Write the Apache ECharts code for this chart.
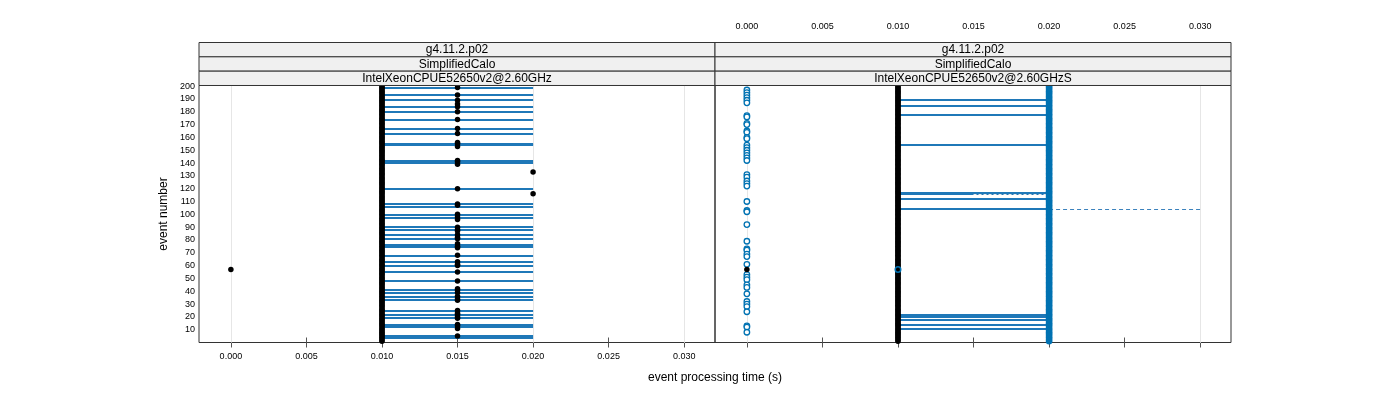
<!DOCTYPE html>
<html><head><meta charset="utf-8">
<script src="https://cdn.jsdelivr.net/npm/echarts@6/dist/echarts.min.js"></script>
<style>html,body{margin:0;padding:0;background:#fff}#c{width:1400px;height:400px}</style>
</head><body><div id="c"></div>
<script>
// ---------- data ----------
const eventNumbers = Array.from({length: 200}, (_, i) => i + 1);
const xTicks = [0.000, 0.005, 0.010, 0.015, 0.020, 0.025, 0.030];
const yTicks = [10, 20, 30, 40, 50, 60, 70, 80, 90, 100, 110, 120, 130, 140, 150, 160, 170, 180, 190, 200];
const stripLeft = ['g4.11.2.p02', 'SimplifiedCalo', 'IntelXeonCPUE52650v2@2.60GHz'];
const stripRight = ['g4.11.2.p02', 'SimplifiedCalo', 'IntelXeonCPUE52650v2@2.60GHzS'];
const xTitle = 'event processing time (s)';
const yTitle = 'event number';

// left panel
const leftBandTime = 0.010;
const leftMidTime = 0.015;
const leftLineFrom = 0.010, leftLineTo = 0.020;
const leftLineEvents = [199, 193, 189, 184, 180, 174, 167, 163, 155, 154, 142, 140, 120, 108, 106, 100, 97, 90, 88, 84, 81, 76, 75, 68, 63, 60, 55, 48, 41, 39, 36, 33, 25, 22, 19, 14, 12, 5, 4];
const leftMidEvents = [199, 193, 189, 186, 184, 180, 174, 167, 163, 156, 155, 153, 142, 141, 139, 120, 108, 107, 100, 98, 96, 90, 88, 87, 84, 82, 81, 77, 75, 74, 68, 63, 61, 60, 55, 48, 42, 41, 39, 36, 34, 33, 25, 23, 22, 20, 19, 14, 13, 11, 5];
const leftOutliers = [[0.020, 133], [0.020, 116], [0.000, 57]];

// right panel
const rightBandBlack = 0.010;
const rightBandBlue = 0.020;
const rightLineFrom = 0.010, rightLineTo = 0.020;
const rightLineEvents = [189, 185, 178, 154, 117, 116, 112, 104, 22, 20, 18, 14, 11];
const rightZeroTime = 0.000;
const rightZeroEvents = [197, 195, 193, 191, 189, 187, 177, 176, 171, 170, 165, 164, 160, 159, 154, 152, 150, 148, 146, 144, 142, 131, 129, 126, 124, 122, 110, 103, 102, 92, 79, 73, 72, 69, 67, 61, 53, 51, 49, 45, 43, 38, 32, 30, 28, 24, 13, 12, 8];
const rightBlackPoints = [[0.000, 57]];
const rightBluePoints = [[0.010, 57]];
const rightDashed = [[0.020, 104], [0.030, 104]];
const rightDashedLight = [[0.015, 116], [0.020, 116]];

// ---------- layout ----------
const FONT = 'Liberation Sans, Arial, sans-serif';
const BLUE = '#0072B2';
const X_MIN = -0.00211, X_MAX = 0.03204;
const Y_MIN = 0, Y_MAX = 200.5;
const PANEL_L = [199, 715];
const PANEL_W = 516;
const PLOT_T = 85.5, PLOT_H = 257;
const STRIP_T = 42.5, STRIP_H = 14.33;

const chart = echarts.init(document.getElementById('c'), null, {renderer: 'canvas'});

const grids = [
  {left: PANEL_L[0], top: PLOT_T, width: PANEL_W, height: PLOT_H, show: true, borderColor: '#333', borderWidth: 1, backgroundColor: 'transparent'},
  {left: PANEL_L[1], top: PLOT_T, width: PANEL_W, height: PLOT_H, show: true, borderColor: '#333', borderWidth: 1, backgroundColor: 'transparent'},
  {left: PANEL_L[0], top: STRIP_T, width: PANEL_W, height: 300, show: false},
  {left: PANEL_L[1], top: STRIP_T, width: PANEL_W, height: 300, show: false}
];

function xAxisDef(gi, pos, showLabels) {
  return {
    type: 'value', gridIndex: gi, position: pos, min: X_MIN, max: X_MAX,
    axisLine: {show: false},
    splitLine: {show: false},
    axisTick: {show: true, inside: false, length: 5, customValues: xTicks, lineStyle: {color: '#555', width: 1}},
    axisLabel: {show: showLabels, customValues: xTicks, formatter: v => v.toFixed(3),
      fontSize: 9, color: '#000', fontFamily: FONT, margin: pos === 'top' ? 11 : 10}
  };
}
const xAxes = [
  xAxisDef(0, 'bottom', true),
  xAxisDef(1, 'bottom', false),
  xAxisDef(2, 'top', false),
  xAxisDef(3, 'top', true)
];
const yAxes = [
  {type: 'value', gridIndex: 0, min: Y_MIN, max: Y_MAX, interval: 10,
    axisLine: {show: false}, axisTick: {show: false}, splitLine: {show: false},
    axisLabel: {fontSize: 9, color: '#000', fontFamily: FONT, margin: 4,
      formatter: v => (yTicks.indexOf(v) >= 0 ? String(v) : '')}},
  {type: 'value', gridIndex: 1, min: Y_MIN, max: Y_MAX, show: false},
  {type: 'value', gridIndex: 2, min: Y_MIN, max: Y_MAX, show: false},
  {type: 'value', gridIndex: 3, min: Y_MIN, max: Y_MAX, show: false}
];

function gridLineSeries(i) {
  return {
    type: 'scatter', xAxisIndex: i, yAxisIndex: i, data: [], z: 1, silent: true,
    markLine: {silent: true, z: 1, zlevel: 0, symbol: ['none', 'none'], label: {show: false},
      lineStyle: {color: '#e6e6e6', width: 1, type: 'solid'},
      emphasis: {disabled: true},
      data: xTicks.map(v => ({xAxis: v}))}
  };
}
function segs(events, from, to) {
  return events.map(e => ({coords: [[from, e], [to, e]]}));
}
function linesSeries(i, data, color, width, type, z) {
  return {type: 'lines', coordinateSystem: 'cartesian2d', xAxisIndex: i, yAxisIndex: i,
    data: data, silent: true, z: z || 2, polyline: false,
    lineStyle: {color: color, width: width, opacity: 1, type: type || 'solid'}};
}
function scatter(i, data, size, style, z, symbol) {
  return {type: 'scatter', xAxisIndex: i, yAxisIndex: i, data: data, symbol: symbol || 'circle',
    symbolSize: size, itemStyle: Object.assign({opacity: 1, borderWidth: 0}, style),
    emphasis: {disabled: true}, silent: true, z: z || 3};
}

const series = [
  gridLineSeries(0),
  gridLineSeries(1),
  // left panel
  linesSeries(0, segs(leftLineEvents, leftLineFrom, leftLineTo), '#1f78b8', 2),
  scatter(0, eventNumbers.map(e => [leftBandTime, e]), 5.5, {color: '#000'}),
  scatter(0, leftMidEvents.map(e => [leftMidTime, e]), 5.5, {color: '#000'}),
  scatter(0, leftOutliers, 5.5, {color: '#000'}),
  // right panel
  linesSeries(1, segs(rightLineEvents, rightLineFrom, rightLineTo), '#1f78b8', 2),
  scatter(1, eventNumbers.map(e => [rightBandBlue, e]), 6.5, {color: BLUE}),
  scatter(1, eventNumbers.map(e => [rightBandBlack, e]), 5.5, {color: '#000'}),
  scatter(1, rightZeroEvents.map(e => [rightZeroTime, e]), 5.5,
    {color: '#fff', borderColor: BLUE, borderWidth: 1.3, opacity: 1}),
  scatter(1, rightBlackPoints, 5.5, {color: '#000'}, 4),
  scatter(1, rightBluePoints, 5.5, {color: 'rgba(0,0,0,0)', borderColor: BLUE, borderWidth: 1.5}, 4),
  linesSeries(1, [{coords: rightDashed}], '#3b82bd', 1, [4, 3], 3),
  linesSeries(1, [{coords: rightDashedLight}], '#e8e8e8', 1, [3, 2], 3)
];

// strips + titles
const graphics = [];
[stripLeft, stripRight].forEach((rows, pi) => {
  rows.forEach((txt, r) => {
    graphics.push({type: 'rect', silent: true, z: 10,
      shape: {x: PANEL_L[pi], y: STRIP_T + r * STRIP_H, width: PANEL_W, height: STRIP_H},
      style: {fill: '#f0f0f0', stroke: '#333', lineWidth: 1}});
    graphics.push({type: 'text', silent: true, z: 11,
      x: PANEL_L[pi] + PANEL_W / 2, y: STRIP_T + r * STRIP_H + STRIP_H / 2 + 0.5,
      style: {text: txt, fontSize: 12, fontFamily: FONT, fill: '#000', align: 'center', verticalAlign: 'middle'}});
  });
});
graphics.push({type: 'text', silent: true, x: PANEL_L[0] + PANEL_W, y: 378,
  style: {text: xTitle, fontSize: 12, fontFamily: FONT, fill: '#000', align: 'center', verticalAlign: 'middle'}});
graphics.push({type: 'text', silent: true, x: 164, y: PLOT_T + PLOT_H / 2, rotation: Math.PI / 2,
  style: {text: yTitle, fontSize: 12, fontFamily: FONT, fill: '#000', align: 'center', verticalAlign: 'middle'}});

chart.setOption({
  animation: false,
  backgroundColor: '#fff',
  grid: grids,
  xAxis: xAxes,
  yAxis: yAxes,
  series: series,
  graphic: graphics
});
</script></body></html>
